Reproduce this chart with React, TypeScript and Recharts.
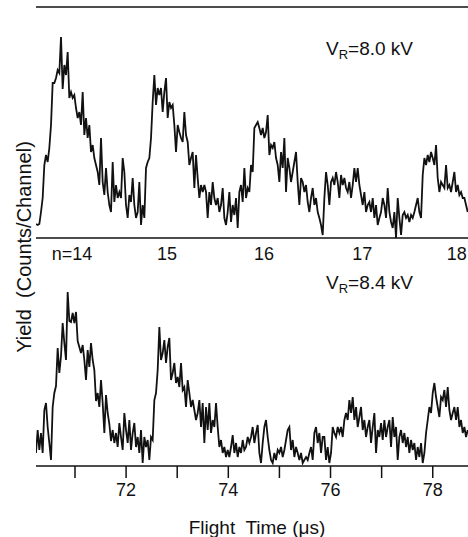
import React from 'react';
import { LineChart, Line, XAxis, YAxis, Label, ReferenceLine } from 'recharts';

// Channel time grid (µs): first channel and channel width
const T0 = 70.237;
const DT = 0.032616;
const X_MAX = 78.69;

// Top panel, V_R = 8.0 kV (counts/channel, arbitrary units)
const topYield: number[] = [
  14, 13, 14, 26, 40, 73, 83, 76, 90, 113, 155, 155, 160, 168, 165, 201, 149, 173, 163, 186,
  140, 146, 140, 143, 130, 120, 126, 113, 146, 103, 120, 100, 113, 86, 93, 80, 73, 66, 53, 100,
  56, 43, 70, 46, 33, 26, 76, 36, 53, 40, 46, 40, 80, 66, 33, 20, 43, 36, 60, 33,
  20, 26, 56, 13, 33, 20, 70, 76, 80, 100, 136, 163, 133, 150, 143, 150, 126, 146, 160, 120,
  136, 130, 133, 113, 86, 113, 106, 100, 96, 126, 103,
  96, 73, 80, 86, 50, 83, 60, 40, 53, 46, 53, 46, 20, 46, 33, 56, 40, 33, 40, 26,
  33, 50, 20, 13, 26, 46, 16, 33, 23, 40, 10, 46, 53, 36, 70, 40, 50, 46, 73, 66,
  110, 113, 116, 110, 103, 110, 100, 106, 123, 83, 93, 90, 96, 80, 73, 56, 86, 70, 100, 46,
  80, 70, 56, 66, 76, 86, 56, 33, 60, 56, 46, 53, 36, 26, 40, 50, 33, 40, 26, 20,
  13, 3,
  40, 66, 53, 33, 56, 60, 53, 66, 56, 40, 63, 53, 60, 50, 46, 56, 40, 53, 70, 56,
  70, 53, 43, 33, 46, 26, 33, 36, 26, 40, 20, 33, 13, 20, 26, 40, 33, 20, 50, 26,
  16, 10, 26, 0, 40, 20, 3, 23, 26, 20, 23, 16, 23, 20, 26, 33, 40, 26, 20, 63,
  80, 73, 83, 76, 86, 80, 73, 93, 60, 46, 56, 53, 50, 73, 50, 53, 46, 56, 66, 46,
  53, 43, 46, 40, 40, 33, 26,
];

// Bottom panel, V_R = 8.4 kV
const bottomYield: number[] = [
  13, 36, 16, 33, 13, 56, 63, 39, 23, 6, 59, 73, 80, 118, 93, 110, 143, 123, 106, 174,
  145, 144, 153, 143, 154, 125, 119, 113, 121, 106, 86, 116, 99, 123, 106, 96, 65, 73, 59, 86,
  63, 33, 71, 53, 42, 25, 36, 23, 33, 19, 43, 29, 16, 53, 36, 23, 46, 16, 33, 43,
  19, 29, 13, 36, 3, 29, 19, 26, 6, 29, 26, 66, 73, 96, 139, 106, 113, 126, 103, 119,
  128, 86, 93, 103, 83, 89, 79, 103, 76, 79, 59,
  86, 73, 59, 66, 56, 46, 53, 66, 39, 63, 23, 59, 36, 63, 33, 46, 39, 63, 39, 19,
  26, 13, 19, 9, 16, 9, 19, 31, 13, 23, 9, 19, 13, 26, 16, 19, 29, 23, 29, 39,
  23, 33, 41, 13, 3, 23, 39, 46, 29, 16, 6, 3, 13, 6, 16, 13, 19, 9, 16, 26,
  36, 39, 16, 26, 9, 19, 13, 6, 13, 3, 6, 9, 6, 13, 19, 6, 33, 39, 23, 33,
  13, 29,
  29, 6, 19, 3, 13, 39, 33, 29, 39, 33, 39, 29, 46, 53, 46, 66, 53, 69, 46, 59,
  39, 49, 59, 36, 46, 29, 39, 46, 23, 39, 53, 13, 36, 29, 43, 26, 46, 29, 39, 46,
  19, 49, 29, 39, 6, 29, 36, 23, 33, 19, 29, 13, 26, 16, 23, 6, 19, 9, 23, 3,
  13, 33, 46, 59, 53, 73, 83, 69, 59, 49, 69, 66, 76, 59, 79, 56, 46, 53, 59, 46,
  59, 39, 46, 33, 39, 29, 36,
];

// Peak labels (n) under the top panel and their flight-time positions
const nLabels = ['n=14', '15', '16', '17', '18'];
const nPositions = [70.94, 72.8, 74.7, 76.62, 78.47];

// Bottom axis ticks
const timeTicks = [71, 72, 73, 74, 75, 76, 77, 78];
const labeledTicks = [72, 74, 76, 78];

const TOP_MAX = 231;
const BOTTOM_MAX = 228;

const topData = topYield.map((y, i) => ({ t: T0 + i * DT, y }));
const bottomData = bottomYield.map((y, i) => ({ t: T0 + i * DT, y }));

const FONT = 'Liberation Sans, Arial, sans-serif';
const AXIS = { stroke: '#111', strokeWidth: 1.5 };

export default function App() {
  return (
    <div style={{ position: 'absolute', left: 0, top: 0, width: 468, height: 537, background: '#fff' }}>
      <div style={{ position: 'absolute', left: 0, top: 0 }}>
        <LineChart width={468} height={265} data={topData} margin={{ top: 7, right: 0, bottom: 0, left: 36 }}>
          <XAxis
            dataKey="t"
            type="number"
            domain={[T0, X_MAX]}
            allowDataOverflow
            ticks={nPositions}
            interval={0}
            tickFormatter={(v: number) => nLabels[nPositions.indexOf(v)] ?? ''}
            tickLine={false}
            tickSize={0}
            tickMargin={9}
            height={27}
            axisLine={AXIS}
            tick={{ fill: '#111', fontSize: 18, fontFamily: FONT }}
          />
          <YAxis domain={[0, TOP_MAX]} allowDataOverflow tick={false} tickLine={false} width={0} axisLine={AXIS} />
          <ReferenceLine y={TOP_MAX} stroke="#111" strokeWidth={1.5} ifOverflow="extendDomain" />
          <Line type="linear" dataKey="y" stroke="#111" strokeWidth={1.8} dot={false} isAnimationActive={false} />
        </LineChart>
      </div>
      <div style={{ position: 'absolute', left: 0, top: 238 }}>
        <LineChart width={468} height={299} data={bottomData} margin={{ top: 0, right: 0, bottom: 0, left: 36 }}>
          <XAxis
            dataKey="t"
            type="number"
            domain={[T0, X_MAX]}
            allowDataOverflow
            ticks={timeTicks}
            interval={0}
            tickFormatter={(v: number) => (labeledTicks.includes(v) ? String(v) : '')}
            tickSize={12}
            tickMargin={5}
            height={71}
            axisLine={AXIS}
            tickLine={AXIS}
            tick={{ fill: '#111', fontSize: 18, fontFamily: FONT }}
          >
            <Label
              value={'Flight\u00A0 Time (\u03BCs)'}
              position="insideBottom"
              offset={3}
              dx={5}
              style={{ fill: '#111', fontSize: 19, fontFamily: FONT }}
            />
          </XAxis>
          <YAxis domain={[0, BOTTOM_MAX]} allowDataOverflow tick={false} tickLine={false} width={0} axisLine={AXIS} />
          <Line type="linear" dataKey="y" stroke="#111" strokeWidth={1.8} dot={false} isAnimationActive={false} />
        </LineChart>
      </div>
      <svg
        width={468}
        height={537}
        style={{ position: 'absolute', left: 0, top: 0, pointerEvents: 'none' }}
      >
        <text
          transform="translate(31,247) rotate(-90)"
          textAnchor="middle"
          fill="#111"
          fontSize={20}
          fontFamily={FONT}
        >
          {'Yield\u00A0\u00A0(Counts/Channel)'}
        </text>
        <text x={326} y={55} fill="#111" fontSize={19} fontFamily={FONT}>
          V<tspan fontSize={13} dy={4}>R</tspan>
          <tspan dy={-4}>=8.0 kV</tspan>
        </text>
        <text x={326} y={289} fill="#111" fontSize={19} fontFamily={FONT}>
          V<tspan fontSize={13} dy={4}>R</tspan>
          <tspan dy={-4}>=8.4 kV</tspan>
        </text>
      </svg>
    </div>
  );
}
